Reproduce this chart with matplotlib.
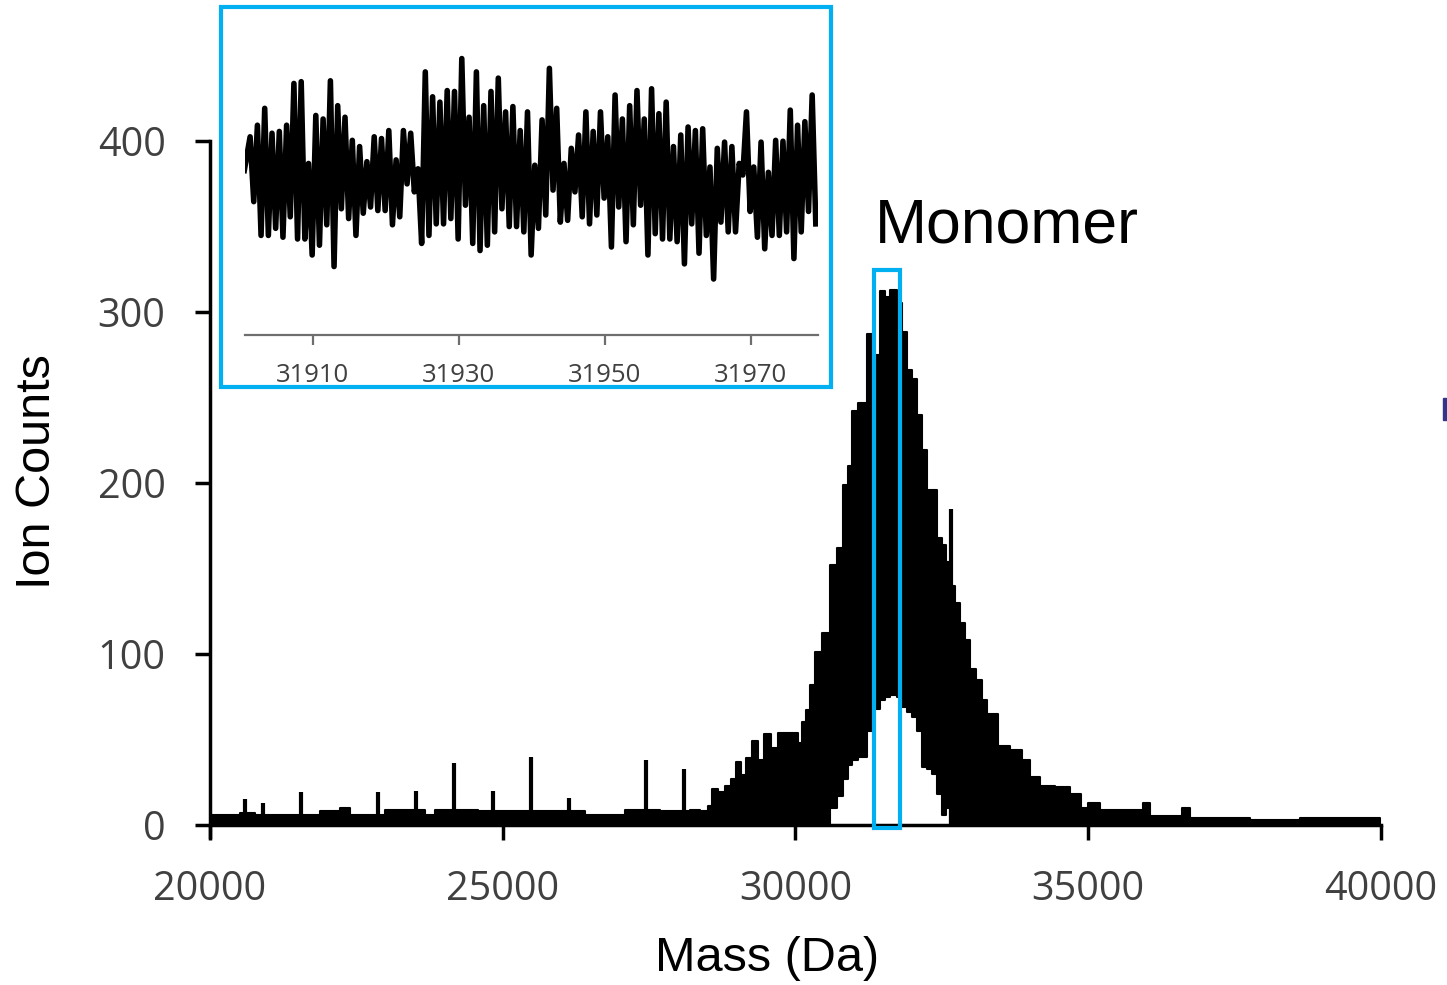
import numpy as np
import matplotlib
matplotlib.use('Agg')
import matplotlib.pyplot as plt
from matplotlib.patches import Rectangle

# spectrum envelope (mass in Da, ion counts)
env_mass = [20034, 20342, 20512, 20769, 21366, 21879, 22220, 22391, 22989, 23245,
            23672, 23843, 24014, 24356, 24578, 24954, 25210, 25808, 26405, 27088,
            27686, 28198, 28369, 28506, 28575, 28677, 28796, 28899, 28984, 29070,
            29155, 29257, 29360, 29462, 29582, 29701, 29855, 29975, 30043, 30111,
            30180, 30249, 30334, 30454, 30591, 30710, 30812, 30897, 30966, 31068,
            31222, 31307, 31444, 31529, 31614, 31734, 31819, 31905, 31991, 32076,
            32161, 32247, 32332, 32417, 32503, 32571, 32640, 32725, 32810, 32896,
            32981, 33084, 33186, 33271, 33339, 33459, 33664, 33869, 34006, 34176,
            34432, 34689, 34877, 34996, 35201, 35457, 35662, 35935, 36055, 36397,
            36602, 36738, 37763, 38617, 39983]
env_upper = [6, 6, 7, 6, 6, 8, 10, 6, 9, 9,
             6, 9, 9, 9, 8, 8, 8, 8, 6, 9,
             8, 9, 8, 11, 21, 19, 23, 27, 37, 29,
             39, 49, 38, 53, 45, 54, 54, 54, 48, 60,
             67, 82, 101, 112, 152, 162, 199, 210, 242, 247,
             287, 275, 312, 309, 313, 305, 288, 266, 261, 240,
             219, 196, 196, 168, 164, 154, 140, 130, 118, 108,
             91, 85, 73, 65, 65, 46, 44, 38, 28, 23,
             22, 18, 10, 13, 9, 9, 9, 13, 5, 5,
             10, 4, 3, 4, 3]
env_lower = [0] * 44 + [10, 17, 27, 35, 38, 40, 55, 68, 73, 75,
                        76, 75, 69, 66, 63, 55, 34, 33, 30, 18,
                        6, 10] + [0] * 29

# isolated spikes on the baseline
spike_mass = [20598, 20905, 21554, 22870, 23518, 24167, 24834, 25483, 26132, 27447, 28096, 32657]
spike_height = [15, 13, 19, 19, 20, 36, 20, 40, 16, 38, 33, 185]

# inset: zoom on the monomer, one oscillation per Da
inset_start = (31900.6, 185)
inset_first_peak = 31901.4
inset_peaks = [223, 236, 255, 227, 229, 236, 283, 285, 193, 247,
               243, 286, 258, 245, 219, 212, 195, 223, 221, 230,
               197, 230, 227, 187, 296, 268, 262, 275, 274, 311,
               245, 296, 258, 274, 289, 251, 257, 230, 251, 191,
               242, 300, 255, 193, 210, 225, 251, 229, 251, 223,
               270, 243, 258, 275, 243, 277, 249, 262, 212, 225,
               234, 230, 232, 189, 210, 217, 212, 193, 251, 189,
               217, 183, 219, 218, 253, 236, 240, 270]
inset_troughs = [150, 112, 112, 120, 110, 133, 108, 108, 90, 101,
                 124, 77, 142, 131, 112, 137, 144, 140, 140, 124,
                 133, 170, 161, 103, 112, 125, 125, 131, 108, 146,
                 103, 95, 101, 116, 142, 122, 122, 116, 90, 120,
                 135, 163, 127, 129, 161, 133, 125, 135, 154, 99,
                 144, 105, 124, 146, 90, 114, 108, 108, 105, 80,
                 125, 92, 112, 63, 127, 116, 116, 180, 139, 110,
                 97, 112, 112, 116, 86, 116, 139, 125]

x_ticks = [20000, 25000, 30000, 35000, 40000]
y_ticks = [0, 100, 200, 300, 400]
inset_ticks = [31910, 31930, 31950, 31970]

blue = '#00B0F0'
grey_txt = '#404040'

fig = plt.figure(figsize=(14.47, 9.85), dpi=100)

# main spectrum
ax = fig.add_axes([0.1451, 0.1503, 0.8093, 0.7066])
ax.fill_between(env_mass, env_lower, env_upper, step='post', facecolor='black',
                edgecolor='black', linewidth=1.5)
ax.vlines(spike_mass, 0, spike_height, color='black', lw=3)
ax.set_xlim(20000, 40000)
ax.set_ylim(-7, 400)
ax.spines['bottom'].set_position(('data', 0))
ax.spines['top'].set_visible(False)
ax.spines['right'].set_visible(False)
for s in ['left', 'bottom']:
    ax.spines[s].set_linewidth(2.5)
    ax.spines[s].set_zorder(3)
ax.set_xticks(x_ticks)
ax.set_yticks(y_ticks)
ax.tick_params(direction='out', length=10.5, width=2.5, pad=21.5, labelsize=28.5,
               labelcolor=grey_txt, labelfontfamily='Open Sans')

# highlight box around the monomer apex
ax.add_patch(Rectangle((31341, -1.75), 444, 326.3, fill=False, ec=blue, lw=3,
                       clip_on=False, zorder=5))

fig.text(0.6047, 0.7543, 'Monomer', fontsize=45, family='Liberation Sans',
         ha='left', va='baseline')
fig.text(0.0256, 0.5208, 'Ion Counts', rotation=90, fontsize=35,
         family='Liberation Sans', ha='center', va='center')
fig.text(0.530, 0.0274, 'Mass (Da)', fontsize=35, family='Liberation Sans',
         ha='center', va='center')

# inset frame
fig.add_artist(Rectangle((221 / 1447, 1 - 387 / 985), 610 / 1447, 380 / 985,
                         transform=fig.transFigure, facecolor='white',
                         edgecolor=blue, lw=3, zorder=3))

ix = [inset_start[0]]
iy = [inset_start[1]]
for k in range(len(inset_peaks)):
    ix += [inset_first_peak + k, inset_first_peak + k + 0.5]
    iy += [inset_peaks[k], inset_troughs[k]]

ins = fig.add_axes([245 / 1447, 1 - 335 / 985, 573 / 1447, 320 / 985], zorder=4)
ins.patch.set_alpha(0)
ins.plot(ix, iy, color='black', lw=4, solid_joinstyle='round')
ins.set_xlim(31900.7, 31979.2)
ins.set_ylim(0, 360)
for s in ['top', 'right', 'left']:
    ins.spines[s].set_visible(False)
ins.spines['bottom'].set_color('#6e6e6e')
ins.spines['bottom'].set_linewidth(1.6)
ins.set_yticks([])
ins.set_xticks(inset_ticks)
ins.tick_params(axis='x', length=7, width=1.6, color='#6e6e6e', pad=13,
                labelsize=18.5, labelcolor=grey_txt, labelfontfamily='Open Sans')

# small mark cut off at the right edge
fig.add_artist(Rectangle((1443 / 1447, 1 - 420 / 985), 4 / 1447, 22 / 985,
                         transform=fig.transFigure, color='#34348a'))

fig.savefig('out.png', dpi=100)
